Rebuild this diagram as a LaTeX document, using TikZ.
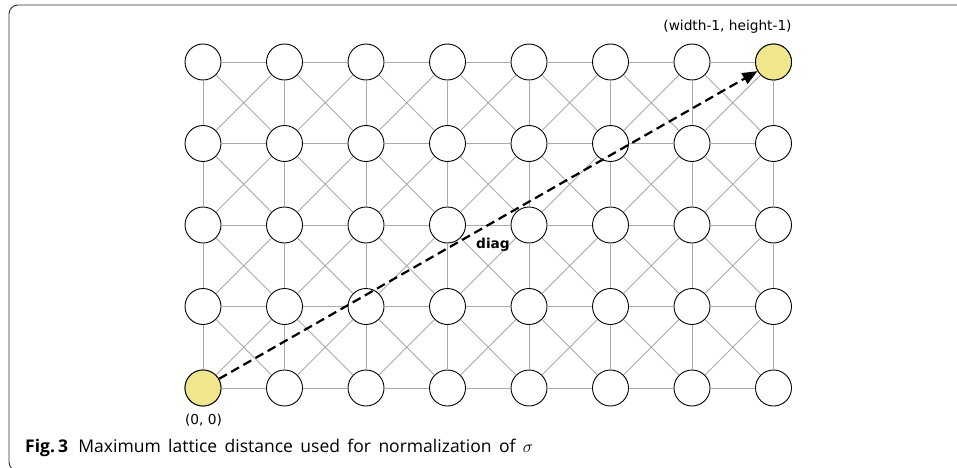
\documentclass[tikz,border=0pt]{standalone}
\usepackage{fontspec}
\setmainfont{Open Sans}
\newfontfamily\labelfont{DejaVu Sans}
\usetikzlibrary{arrows.meta}

\definecolor{khaki}{HTML}{F0E68C}
\definecolor{edgegray}{HTML}{AAAAAA}

\tikzset{
  site/.style={circle, draw=black, line width=0.9pt, fill=white,
               minimum size=36pt, inner sep=0pt},
  corner/.style={site, fill=khaki},
  link/.style={draw=edgegray, line width=0.8pt},
  diagarrow/.style={line width=2.2pt, dash pattern=on 9pt off 5pt,
                    -{Triangle[length=15pt,width=12pt]}},
  coordlabel/.style={font=\labelfont\fontsize{13.7}{15}\selectfont},
  framebox/.style={draw=black!80, line width=0.9pt, rounded corners=9pt},
}

\begin{document}
\begin{tikzpicture}[x=1pt,y=1pt]
  \useasboundingbox (0,0) rectangle (957,467);

  % outer frame (only the top and left sides fall inside the page)
  \draw[framebox] (975,-4) -- (9,-4) -- (9,462) -- (975,462);

  % lattice sites: 8 columns, 5 rows
  \foreach \i in {0,...,7} {
    \foreach \j in {0,...,4} {
      \node[site] (n-\i-\j) at ({203+81.5*\i},{79+81.5*\j}) {};
    }
  }
  \node[corner] at (n-0-0) {};
  \node[corner] at (n-7-4) {};

  % horizontal links
  \foreach \i [evaluate=\i as \k using int(\i+1)] in {0,...,6} {
    \foreach \j in {0,...,4} {
      \path[link] (n-\i-\j) -- (n-\k-\j);
    }
  }
  % vertical links
  \foreach \i in {0,...,7} {
    \foreach \j [evaluate=\j as \l using int(\j+1)] in {0,...,3} {
      \path[link] (n-\i-\j) -- (n-\i-\l);
    }
  }
  % diagonal links
  \foreach \i [evaluate=\i as \k using int(\i+1)] in {0,...,6} {
    \foreach \j [evaluate=\j as \l using int(\j+1)] in {0,...,3} {
      \path[link] (n-\i-\j) -- (n-\k-\l);
      \path[link] (n-\k-\j) -- (n-\i-\l);
    }
  }

  % maximum lattice distance
  \draw[diagarrow] (n-0-0) -- (n-7-4);
  \node[coordlabel, font=\labelfont\bfseries\fontsize{13.7}{15}\selectfont] (diaglabel) at (493,222) {diag};

  \node[coordlabel] (origin) at (203.5,46.5) {(0, 0)};
  \node[coordlabel] (far) at (727.5,440) {(width-1, height-1)};

  % caption, set with justified word spacing
  \node[anchor=base west, inner sep=0pt, font=\fontsize{17.5}{21}\selectfont] (caption) at (25,15)
    {\makebox[508pt][s]{\textbf{Fig.\kern3pt 3}\hspace{3pt} Maximum lattice distance used for normalization of $\sigma$}};
\end{tikzpicture}
\end{document}
